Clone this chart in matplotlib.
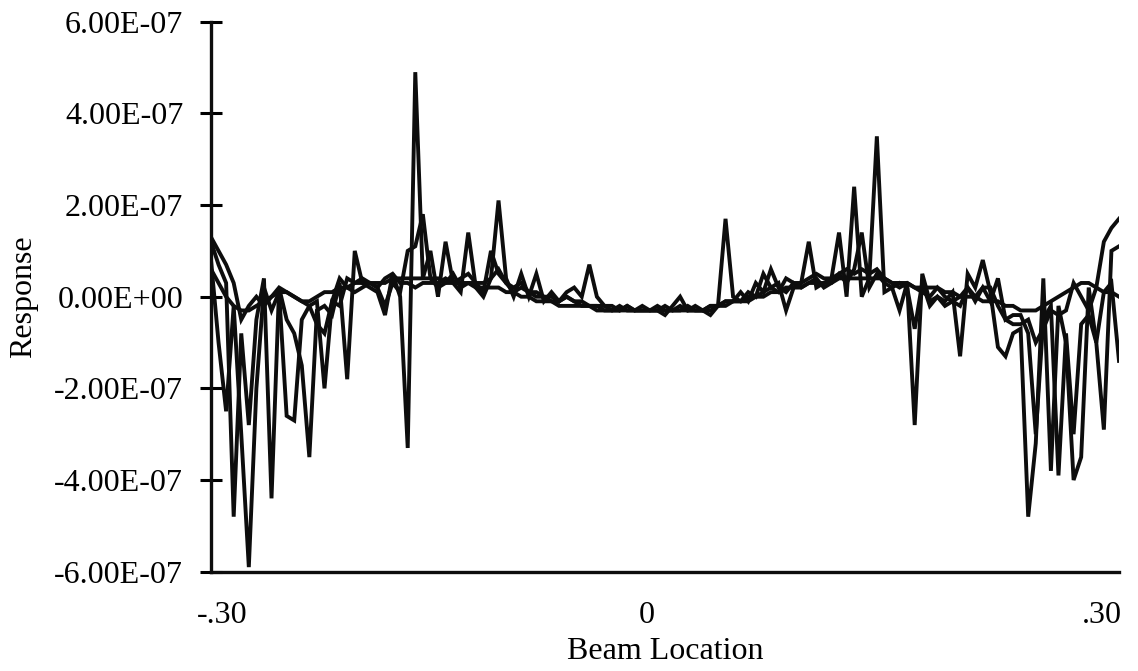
import numpy as np
import matplotlib
matplotlib.use("Agg")
import matplotlib.pyplot as plt

# beam positions, 0.005 apart from -.30 to .30
beam_x = np.round(np.arange(-0.30, 0.3001, 0.005), 3)

# responses, in units of 1e-8
resp_a = [12, 7, 3, -48, -8, -28, -5, 4, -44, 2,
          -5, -8, -15, -35, -3, -2, -4, 3, -18, 10,
          3, 2, 1, -4, 5, 0, -33, 49, 4, 10,
          0, 12, 3, 1, 14, 2, 0, 4, 21, 4,
          0, 5, 0, 5, -1, 1, -1, 1, 2, 0,
          7, 0, -2, -3, -2, -3, -3, -3, -3, -3,
          -4, -2, 0, -3, -3, -3, -4, -2, 17, 0,
          -1, 1, 0, 5, 2, 3, -3, 2, 3, 12,
          2, 3, 4, 14, 0, 24, 0, 4, 35, 1,
          2, -3, 3, -28, 5, -1, 0, -1, 1, -13,
          5, 2, 8, 1, -11, -13, -8, -7, -48, -32,
          4, -38, -2, -10, -40, -35, 2, -10, -29, 10,
          11]
resp_b = [8, -10, -25, -2, -30, -59, -20, 2, -3, 1,
          -26, -27, -5, -2, -1, -20, -1, 4, 2, 1,
          2, 3, 2, -2, 3, 1, 10, 11, 18, 4,
          2, 3, 5, 2, 3, 3, 1, 10, 5, 3,
          1, 2, 1, 0, 0, -1, -1, 0, -1, -2,
          -2, -2, -3, -3, -3, -2, -3, -3, -3, -2,
          -3, -3, -3, -2, -3, -3, -3, -2, -1, -1,
          1, -1, 3, 1, 6, 2, 1, 3, 2, 3,
          4, 2, 3, 5, 3, 6, 14, 2, 5, 3,
          2, 3, 2, -7, 3, -2, 0, -2, -1, -2,
          2, -1, 2, -1, 4, -5, -4, -4, -8, -30,
          -5, -2, -39, -8, -30, -6, -4, -10, 1, 3,
          -14]
resp_c = [13, 10, 7, 3, -5, -2, 0, -2, 0, 2,
          1, 0, -1, -2, -6, -8, -1, -2, 4, 3,
          4, 3, 2, 4, 5, 3, 3, 2, 3, 3,
          3, 4, 3, 4, 5, 3, 3, 4, 6, 3,
          2, 3, 1, 1, 0, 0, -1, 0, -1, -1,
          -2, -2, -2, -2, -3, -2, -3, -2, -3, -3,
          -2, -3, -2, -3, -2, -3, -2, -2, -1, -1,
          -1, 0, 0, 1, 2, 1, 4, 3, 3, 4,
          5, 4, 4, 5, 6, 5, 6, 5, 6, 4,
          3, 2, 3, 2, 1, 0, 2, 0, -1, 0,
          2, 0, 2, 2, -2, -5, -6, -6, -5, -10,
          -7, -3, -4, -3, 3, 0, -3, 2, 12, 15,
          17]
resp_d = [6, 3, 0, -2, -3, -3, -2, -1, 0, 1,
          1, 0, -1, -1, 0, 1, 1, 2, 2, 3,
          3, 3, 3, 3, 4, 4, 4, 4, 4, 4,
          4, 3, 3, 3, 3, 2, 2, 2, 2, 1,
          1, 0, 0, -1, -1, -1, -2, -2, -2, -2,
          -2, -3, -3, -3, -3, -3, -3, -3, -3, -3,
          -3, -3, -3, -3, -3, -3, -2, -2, -2, -1,
          -1, -1, 0, 0, 1, 1, 2, 2, 2, 3,
          3, 3, 3, 4, 4, 4, 4, 4, 4, 4,
          3, 3, 3, 2, 2, 2, 2, 1, 1, 0,
          0, 0, -1, -1, -1, -2, -2, -3, -3, -3,
          -2, -1, 0, 1, 2, 3, 3, 2, 1, 1,
          0]

y_ticks = [-6e-7, -4e-7, -2e-7, 0, 2e-7, 4e-7, 6e-7]
y_tick_labels = ["-6.00E-07", "-4.00E-07", "-2.00E-07", "0.00E+00",
                 "2.00E-07", "4.00E-07", "6.00E-07"]
x_tick_pos = [-0.2925, -0.012, 0.289]
x_tick_labels = ["-.30", "0", ".30"]

plt.rcParams["font.family"] = ["Liberation Serif", "DejaVu Serif"]

fig = plt.figure(figsize=(11.38, 6.71), dpi=100)
ax = fig.add_axes([0.1854, 0.148, 0.7979, 0.8196])

for series in (resp_a, resp_b, resp_c, resp_d):
    ax.plot(beam_x, np.array(series) * 1e-8, color="#0d0d0d", lw=2.8,
            solid_joinstyle="miter")

ax.set_xlim(-0.30, 0.30)
ax.set_ylim(-6e-7, 6e-7)

for side in ("top", "right"):
    ax.spines[side].set_visible(False)
for side in ("left", "bottom"):
    ax.spines[side].set_linewidth(2.4)
    ax.spines[side].set_color("#0d0d0d")

ax.set_yticks(y_ticks)
ax.set_yticklabels(y_tick_labels, fontsize=23)
ax.tick_params(axis="y", direction="inout", length=16, width=2.2, pad=12)

ax.set_xticks(x_tick_pos)
ax.set_xticklabels(x_tick_labels, fontsize=23)
ax.tick_params(axis="x", length=0, pad=21)

ax.set_ylabel("Response", fontsize=23)
ax.yaxis.set_label_coords(-0.19, 0.5)
ax.set_xlabel("Beam Location", fontsize=23)
ax.xaxis.set_label_coords(0.5, -0.118)

fig.savefig("out.png", dpi=100)
